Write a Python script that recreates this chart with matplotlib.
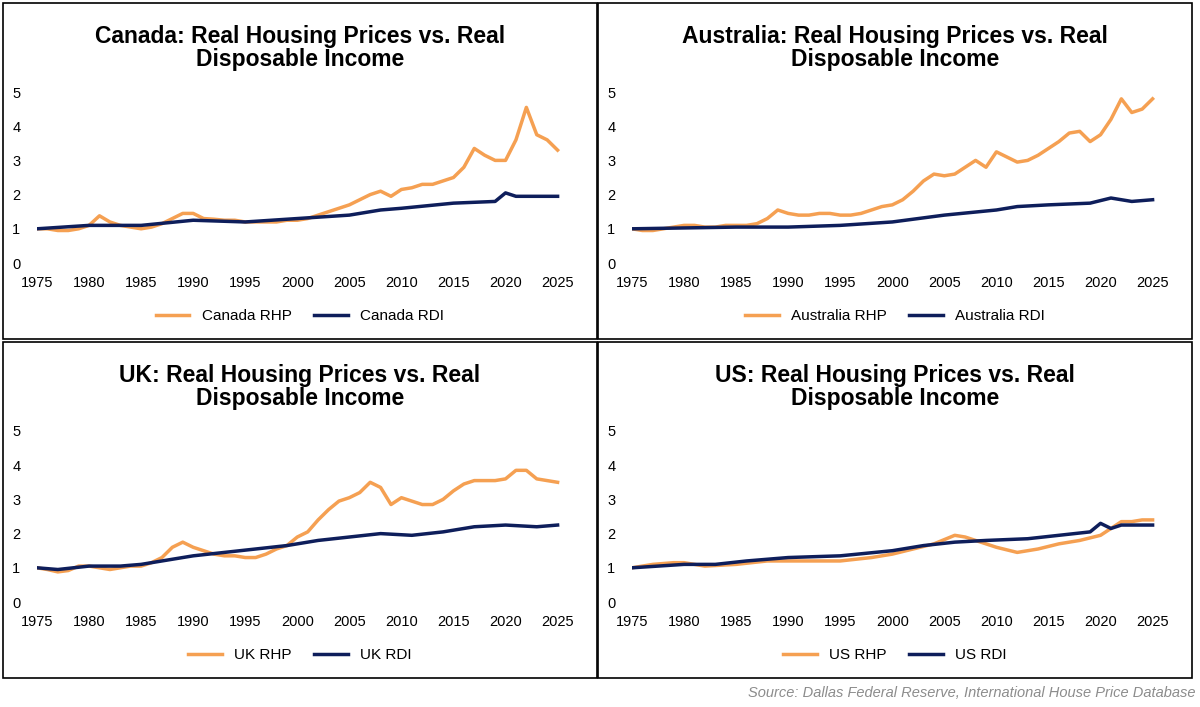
import matplotlib
matplotlib.use("Agg")
import matplotlib.pyplot as plt
from matplotlib.patches import Rectangle
from matplotlib.lines import Line2D

ca_rhp_years = list(range(1975, 2026))
ca_rhp = [1.0,1.0,0.95,0.95,1.0,1.1,1.38,1.2,1.1,1.05,1.0,1.05,1.15,1.3,1.45,1.45,1.3,1.28,1.25,1.25,1.2,1.2,1.2,1.2,1.25,1.25,1.3,1.4,1.5,1.6,1.7,1.85,2.0,2.1,1.95,2.15,2.2,2.3,2.3,2.4,2.5,2.8,3.35,3.15,3.0,3.0,3.6,4.55,3.75,3.6,3.3]
ca_rdi_years = [1975,1980,1985,1990,1995,2000,2005,2008,2010,2015,2019,2020,2021,2025]
ca_rdi = [1.0,1.1,1.1,1.25,1.2,1.3,1.4,1.55,1.6,1.75,1.8,2.05,1.95,1.95]

au_rhp_years = list(range(1975, 2026))
au_rhp = [1.0,0.95,0.95,1.0,1.05,1.1,1.1,1.05,1.05,1.1,1.1,1.1,1.15,1.3,1.55,1.45,1.4,1.4,1.45,1.45,1.4,1.4,1.45,1.55,1.65,1.7,1.85,2.1,2.4,2.6,2.55,2.6,2.8,3.0,2.8,3.25,3.1,2.95,3.0,3.15,3.35,3.55,3.8,3.85,3.55,3.75,4.2,4.8,4.4,4.5,4.8]
au_rdi_years = [1975,1985,1990,1995,2000,2005,2010,2012,2015,2019,2021,2023,2025]
au_rdi = [1.0,1.05,1.05,1.1,1.2,1.4,1.55,1.65,1.7,1.75,1.9,1.8,1.85]

uk_rhp_years = list(range(1975, 2026))
uk_rhp = [1.0,0.95,0.88,0.92,1.05,1.05,1.0,0.95,1.0,1.05,1.05,1.15,1.3,1.6,1.75,1.6,1.5,1.4,1.35,1.35,1.3,1.3,1.4,1.55,1.65,1.9,2.05,2.4,2.7,2.95,3.05,3.2,3.5,3.35,2.85,3.05,2.95,2.85,2.85,3.0,3.25,3.45,3.55,3.55,3.55,3.6,3.85,3.85,3.6,3.55,3.5]
uk_rdi_years = [1975,1977,1980,1983,1985,1988,1990,1993,1996,1999,2002,2005,2008,2011,2014,2017,2020,2023,2025]
uk_rdi = [1.0,0.95,1.05,1.05,1.1,1.25,1.35,1.45,1.55,1.65,1.8,1.9,2.0,1.95,2.05,2.2,2.25,2.2,2.25]

us_rhp_years = [1975,1977,1979,1980,1982,1985,1988,1990,1995,1998,2000,2002,2004,2006,2007,2008,2010,2012,2014,2016,2018,2020,2021,2022,2023,2024,2025]
us_rhp = [1.0,1.1,1.15,1.15,1.05,1.1,1.2,1.2,1.2,1.3,1.4,1.55,1.7,1.95,1.9,1.8,1.6,1.45,1.55,1.7,1.8,1.95,2.15,2.35,2.35,2.4,2.4]
us_rdi_years = [1975,1980,1983,1986,1990,1995,2000,2003,2006,2009,2013,2016,2019,2020,2021,2022,2025]
us_rdi = [1.0,1.1,1.1,1.2,1.3,1.35,1.5,1.65,1.75,1.8,1.85,1.95,2.05,2.3,2.15,2.25,2.25]

x_ticks = [1975,1980,1985,1990,1995,2000,2005,2010,2015,2020,2025]
y_ticks = [0,1,2,3,4,5]

ORANGE = "#F5A052"
NAVY = "#0E1E5B"
W, H = 1200, 707
fig = plt.figure(figsize=(12, 7.07), dpi=100)
plt.rcParams['font.family'] = ['Liberation Sans', 'DejaVu Sans']

panels = [
    ("Canada", ca_rhp_years, ca_rhp, ca_rdi_years, ca_rdi, 3, 3),
    ("Australia", au_rhp_years, au_rhp, au_rdi_years, au_rdi, 598, 3),
    ("UK", uk_rhp_years, uk_rhp, uk_rdi_years, uk_rdi, 3, 342),
    ("US", us_rhp_years, us_rhp, us_rdi_years, us_rdi, 598, 342),
]
for name, ry, rv, dy, dv, px, py in panels:
    pw, ph = 594, 336
    fig.patches.append(Rectangle((px / W, 1 - (py + ph) / H), pw / W, ph / H,
                                 transform=fig.transFigure, fill=False, ec="black", lw=1.2))
    x0 = px + 34
    ax = fig.add_axes([x0 / W, 1 - (py + 260) / H, 531 / W, 171 / H])
    ax.plot(ry, rv, color=ORANGE, lw=2.5)
    ax.plot(dy, dv, color=NAVY, lw=2.5)
    ax.set_xlim(1975, 2026)
    ax.set_ylim(0, 5)
    ax.set_xticks(x_ticks)
    ax.set_yticks(y_ticks)
    for s in ax.spines.values():
        s.set_visible(False)
    ax.tick_params(length=0, labelsize=10.5)
    ax.tick_params(axis="x", pad=9)
    ax.tick_params(axis="y", pad=12)
    ax.set_xticklabels([str(t) for t in x_ticks])
    cx = (px + pw / 2) / W
    fig.text(cx, 1 - (py + 45) / H, f"{name}: Real Housing Prices vs. Real\nDisposable Income",
             ha="center", va="center", fontsize=16.5, fontweight="bold", linespacing=1.05)
    handles = [Line2D([], [], color=ORANGE, lw=2.5), Line2D([], [], color=NAVY, lw=2.5)]
    fig.legend(handles, [f"{name} RHP", f"{name} RDI"], loc="center",
               bbox_to_anchor=(cx, 1 - (py + 313) / H), ncol=2, frameon=False,
               fontsize=11, handlelength=2.2, columnspacing=1.5)

fig.text(1195 / W, 1 - 693 / H, "Source: Dallas Federal Reserve, International House Price Database",
         ha="right", va="center", fontsize=10.5, style="italic", color="#8C8C8C")
fig.savefig("out.png", dpi=100)
